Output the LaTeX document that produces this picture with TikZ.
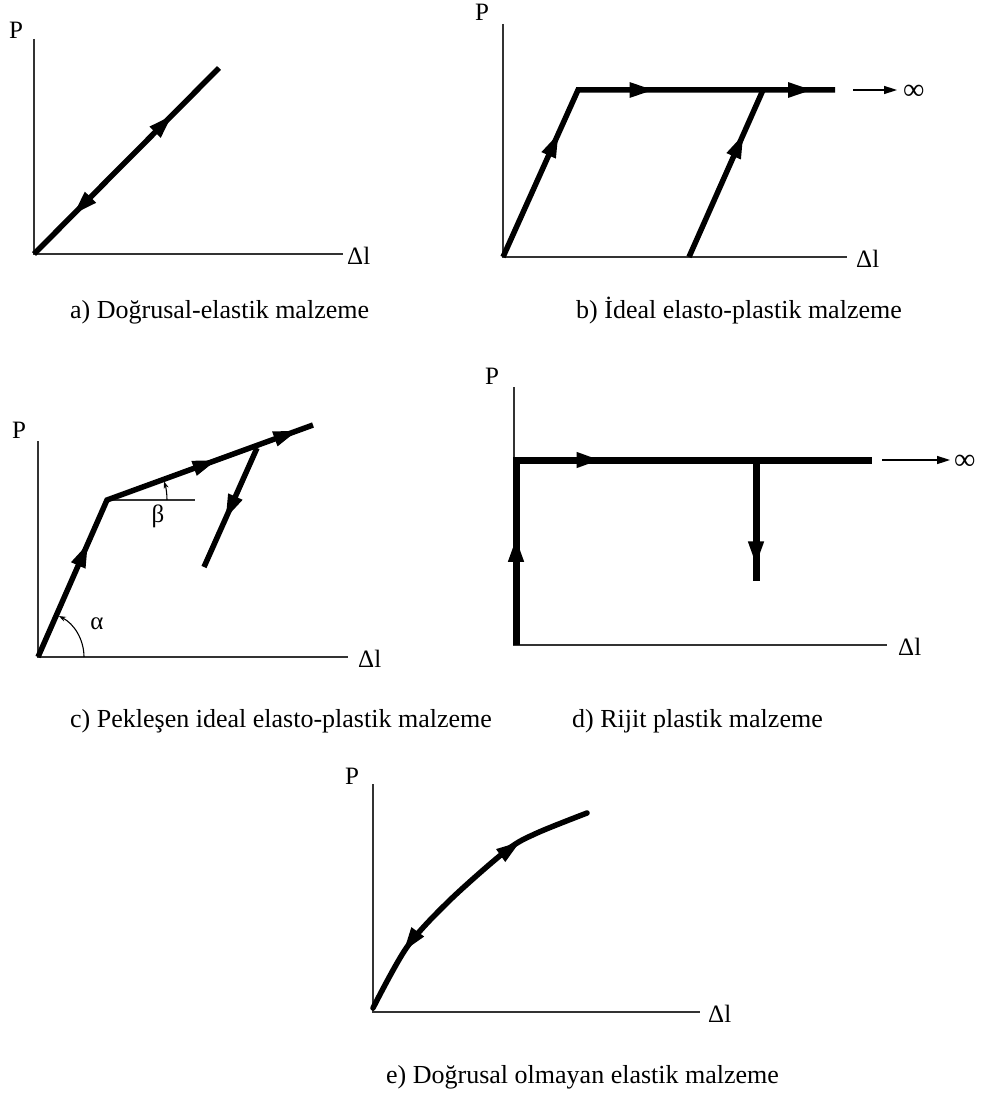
\documentclass[tikz,border=0pt]{standalone}
\usepackage{fontspec}
\setmainfont{Liberation Serif}
\usetikzlibrary{arrows.meta,decorations.markings}
\tikzset{
  ax/.style={line width=1.5pt, black!80},
  crv/.style={line width=5.5pt, line join=miter},
  crvd/.style={line width=7pt, line join=miter},
  fa/.style={postaction={decorate, decoration={markings, mark=at position #1 with {\arrow{Triangle[length=25pt,width=14pt]}}}}},
  ra/.style={postaction={decorate, decoration={markings, mark=at position #1 with {\arrowreversed{Triangle[length=25pt,width=14pt]}}}}},
  headseg/.style={line width=5.5pt, -{Triangle[length=25pt,width=14pt]}},
  thinarrow/.style={line width=1.5pt, -{Triangle[length=13pt,width=8pt]}},
  angarrow/.style={line width=1.1pt, -{Stealth[length=7pt,width=5pt]}},
  lbl/.style={font=\fontsize{25}{29}\selectfont, inner sep=0pt},
  inf/.style={font=\fontsize{30}{34}\selectfont, inner sep=0pt, anchor=west},
  capt/.style={font=\fontsize{26}{30}\selectfont, inner sep=0pt, anchor=base west},
}
\begin{document}
\begin{tikzpicture}[x=1pt,y=-1pt]
\useasboundingbox[fill=white] (0,0) rectangle (982,1102);
% ---------- a ----------
\coordinate (aO) at (34,254);
\coordinate (aY) at (34,39);
\coordinate (aX) at (343,254);
\coordinate (aE) at (219,68);
\draw[ax] (aY) -- (aO) -- (aX);
\draw[crv, fa=0.75, ra=0.21] (aO) -- (aE);
\node[lbl] (aP) at (16,30) {P};
\node[lbl, anchor=west] (aD) at (347,256) {Δl};
\node[capt] (ca) at (70,318) {a) Doğrusal-elastik malzeme};
% ---------- b ----------
\coordinate (bO) at (503,257);
\coordinate (bY) at (503,24);
\coordinate (bX) at (847,257);
\coordinate (bC) at (578,90);
\coordinate (bE) at (835,90);
\coordinate (bS) at (689,257);
\coordinate (bM) at (763,90);
\coordinate (bA1) at (853,90);
\coordinate (bA2) at (897,90);
\draw[ax] (bY) -- (bO) -- (bX);
\draw[crv, fa=0.31, fa=0.59, fa=0.95] (bO) -- (bC) -- (bE);
\draw[crv, fa=0.74] (bS) -- (bM);
\draw[thinarrow] (bA1) -- (bA2);
\node[inf] (binf) at (903,92) {∞};
\node[lbl] (bP) at (482,12) {P};
\node[lbl, anchor=west] (bD) at (856,259) {Δl};
\node[capt] (cb) at (576,318) {b) İdeal elasto-plastik malzeme};
% ---------- c ----------
\coordinate (cO) at (38,657);
\coordinate (cY) at (38,441);
\coordinate (cX) at (348,657);
\coordinate (cC) at (107,500);
\coordinate (cE) at (313,425);
\coordinate (cB) at (195,500);
\coordinate (cD1) at (257,448);
\coordinate (cD2) at (204,567);
\coordinate (cA0) at (84,657);
\coordinate (cB0) at (167,500);
\draw[ax] (cY) -- (cO) -- (cX);
\draw[ax] (cC) -- (cB);
\draw[crv, fa=0.32, fa=0.74, fa=0.96] (cO) -- (cC) -- (cE);
\draw[crv, fa=0.6] (cD1) -- (cD2);
\draw[angarrow] (cA0) arc[start angle=0, end angle=-63, radius=46];
\draw[angarrow] (cB0) arc[start angle=0, end angle=-18, radius=60];
\node[lbl] (calpha) at (97,624) {α};
\node[lbl] (cbeta) at (158,516) {β};
\node[lbl] (cP) at (19,430) {P};
\node[lbl, anchor=west] (cDl) at (358,659) {Δl};
\node[capt] (cc) at (70,727) {c) Pekleşen ideal elasto-plastik malzeme};
% ---------- d ----------
\coordinate (dO) at (514,645);
\coordinate (dY) at (514,387);
\coordinate (dX) at (887,645);
\coordinate (dB) at (516,645);
\coordinate (dC) at (516,460);
\coordinate (dE) at (872,460);
\coordinate (dV1) at (756,460);
\coordinate (dV2) at (756,581);
\coordinate (dA1) at (882,460);
\coordinate (dA2) at (950,460);
\draw[ax] (dY) -- (dO) -- (dX);
\draw[crvd, fa=0.2, fa=0.5] (dB) -- (dC) -- (dE);
\draw[crvd, fa=0.88] (dV1) -- (dV2);
\draw[thinarrow] (dA1) -- (dA2);
\node[inf] (dinf) at (954,462) {∞};
\node[lbl] (dP) at (492,376) {P};
\node[lbl, anchor=west] (dDl) at (898,647) {Δl};
\node[capt] (cd) at (572,727) {d) Rijit plastik malzeme};
% ---------- e ----------
\coordinate (eO) at (373,1012);
\coordinate (eY) at (373,784);
\coordinate (eX) at (700,1012);
\coordinate (ef1) at (507,851);
\coordinate (ef2) at (521,841);
\coordinate (eb1) at (414,937);
\coordinate (eb2) at (403,952);
\draw[ax] (eY) -- (eO) -- (eX);
\draw[crv, line cap=round] plot[smooth] coordinates {(373,1008) (407,947) (450,900) (507,850) (537,833) (587,813)};
\draw[headseg] (ef1) -- (ef2);
\draw[headseg] (eb1) -- (eb2);
\node[lbl] (eP) at (352,776) {P};
\node[lbl, anchor=west] (eDl) at (708,1014) {Δl};
\node[capt] (ce) at (386,1083) {e) Doğrusal olmayan elastik malzeme};
\end{tikzpicture}
\end{document}
